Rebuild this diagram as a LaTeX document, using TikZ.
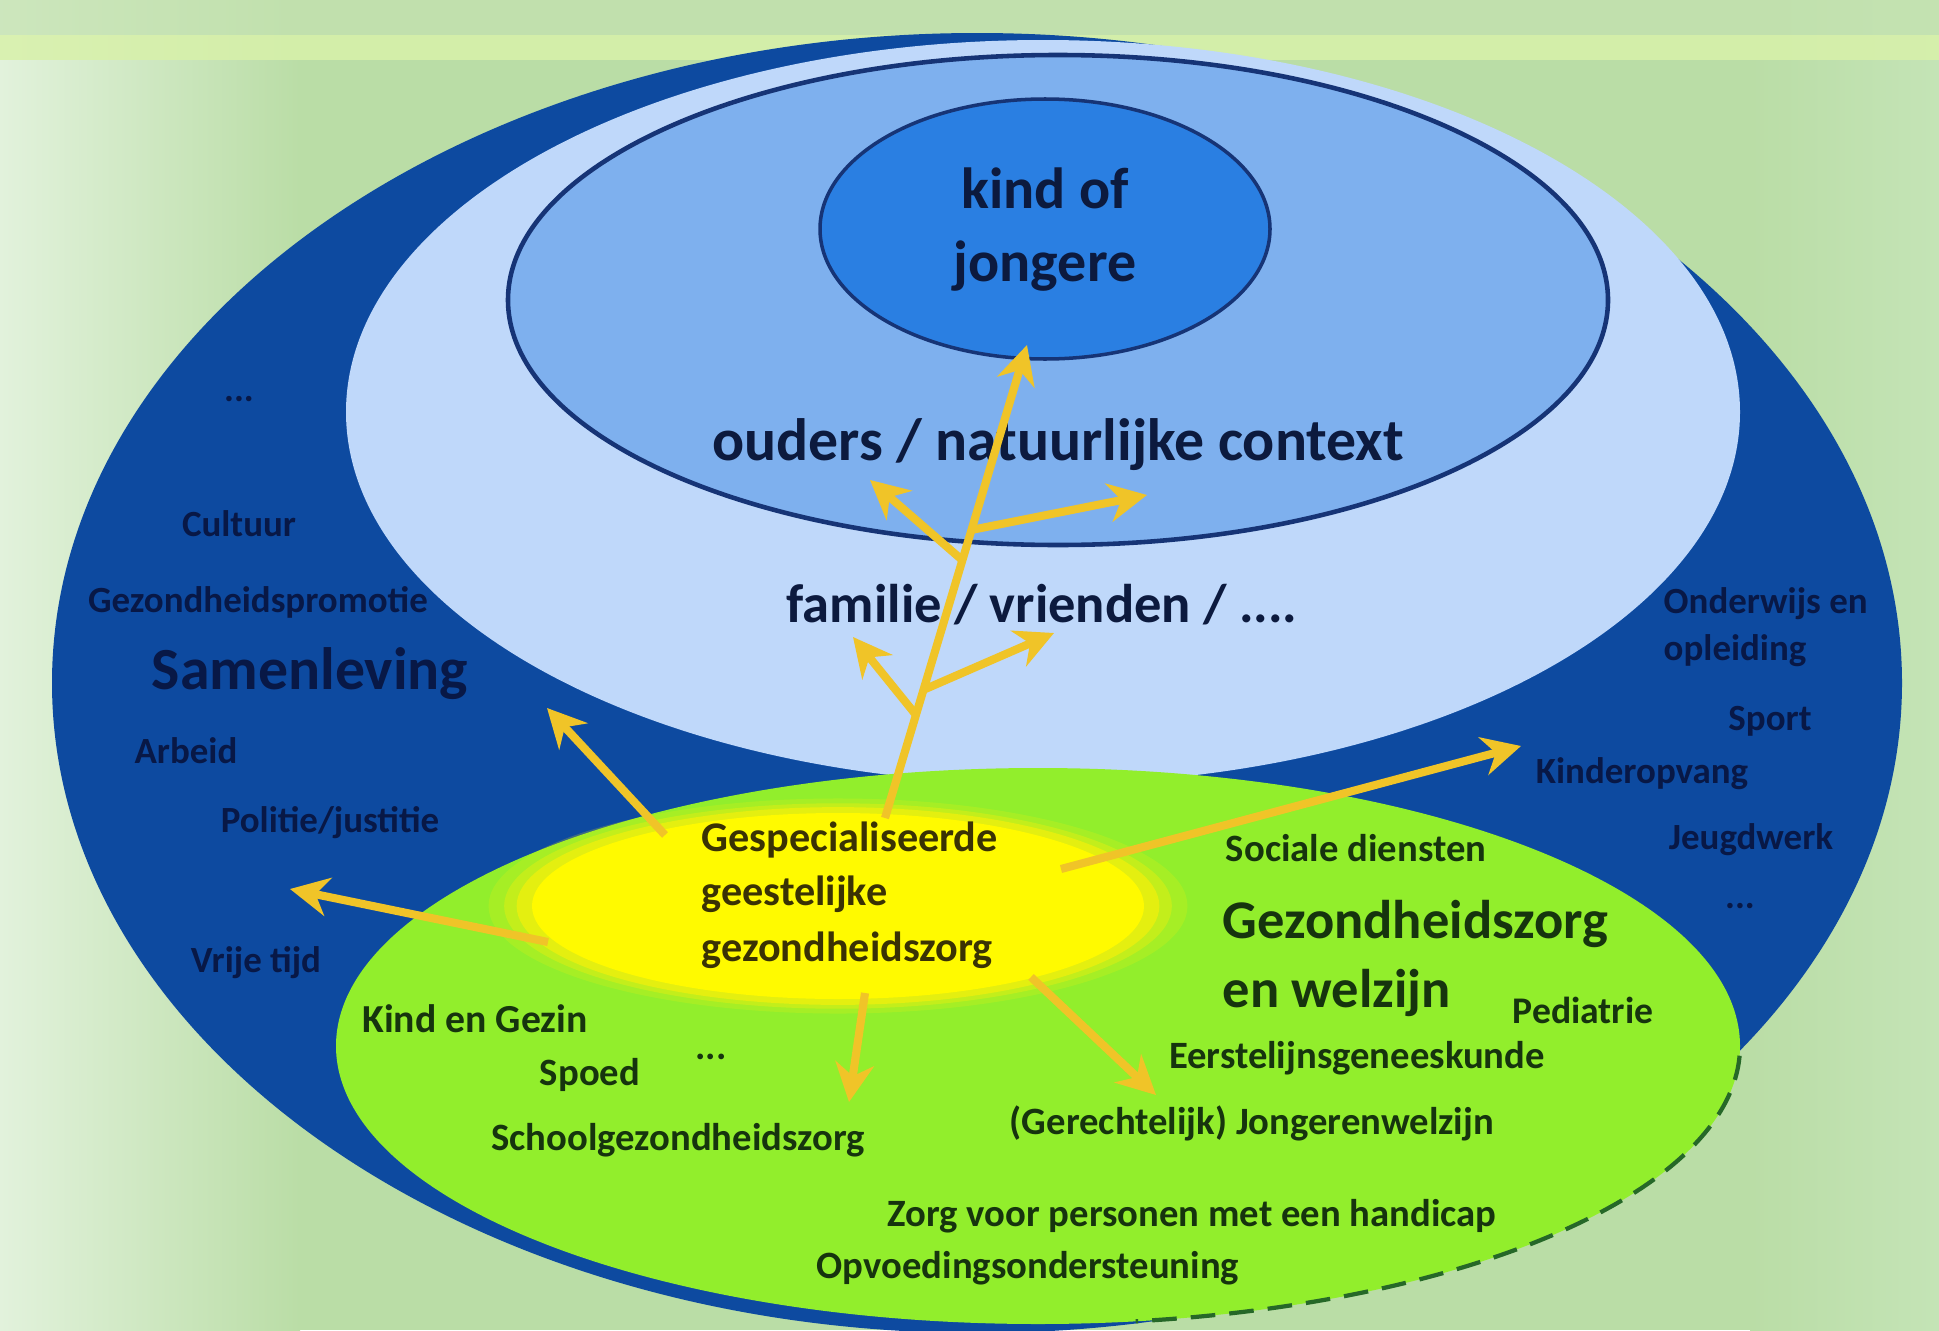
\documentclass[tikz,border=0pt]{standalone}
\usepackage{fontspec}
\setmainfont{Carlito}
\usetikzlibrary{arrows.meta}
\definecolor{bgL}{RGB}{226,242,220}
\definecolor{bgM}{RGB}{186,221,166}
\definecolor{bgR}{RGB}{196,228,182}
\definecolor{bandc}{RGB}{216,241,170}
\definecolor{topc}{RGB}{196,226,176}
\definecolor{societyblue}{RGB}{13,74,160}
\definecolor{famblue}{RGB}{191,216,250}
\definecolor{parentblue}{RGB}{126,176,238}
\definecolor{childblue}{RGB}{42,127,226}
\definecolor{rimblue}{RGB}{22,52,118}
\definecolor{caregreen}{RGB}{146,238,44}
\definecolor{dashgreen}{RGB}{38,104,40}
\definecolor{coreyellow}{RGB}{255,250,0}
\definecolor{haloyellow}{RGB}{250,240,10}
\definecolor{arrowgold}{RGB}{240,196,40}
\definecolor{navytext}{RGB}{12,26,62}
\definecolor{bandtext}{RGB}{8,24,70}
\definecolor{greentext}{RGB}{22,52,14}
\definecolor{yellowtext}{RGB}{58,50,4}
\tikzset{
  bigtxt/.style={font=\fontsize{17}{20}\selectfont\bfseries, text=navytext, inner sep=0pt},
  bandtxt/.style={font=\fontsize{10.5}{12}\selectfont\bfseries, text=bandtext, inner sep=0pt},
  caretxt/.style={font=\fontsize{11}{13}\selectfont\bfseries, text=greentext, inner sep=0pt},
  caretitle/.style={font=\fontsize{15.5}{18}\selectfont\bfseries, text=greentext, inner sep=0pt, anchor=west},
  coretxt/.style={font=\fontsize{12}{14}\selectfont\bfseries, text=yellowtext, inner sep=0pt, anchor=base west},
  flow/.style={draw=arrowgold, line width=2.3pt, -{Stealth[length=11pt,width=11pt]}},
}
\begin{document}
\begin{tikzpicture}[x=0.01cm,y=-0.01cm]
\useasboundingbox (0,0) rectangle (1939,1330);
% background
\fill[bgM] (0,0) rectangle (1939,1330);
\shade[left color=bgL, right color=bgM] (0,0) rectangle (300,1330);
\shade[left color=bgM, right color=bgR] (1750,0) rectangle (1939,1330);
\fill[topc, opacity=0.7] (0,0) rectangle (1939,35);
\fill[bandc, opacity=0.85] (0,35) rectangle (1939,60);
% society
\fill[societyblue] (977,683) ellipse [x radius=925, y radius=650];
% family / friends
\fill[famblue] (1043,412) ellipse [x radius=697, y radius=372];
% parents
\filldraw[fill=parentblue, draw=rimblue, line width=1.3pt] (1058,300) ellipse [x radius=550, y radius=245];
% child
\filldraw[fill=childblue, draw=rimblue, line width=1pt] (1045,229) ellipse [x radius=225, y radius=130];
% health care and welfare
\fill[caregreen] (1038,1046) ellipse [x radius=702, y radius=278];
\draw[dashgreen, dashed, line width=1.2pt, dash pattern=on 7pt off 4pt] (1038,1046) ++(2:702 and 278) arc[start angle=2, end angle=82, x radius=702, y radius=278];
% specialised mental health care (soft yellow)
\foreach \s/\o in {1.12/0.2, 1.07/0.35, 1.03/0.6} {
  \fill[haloyellow, opacity=\o] (838,906) ellipse [x radius={312*\s}, y radius={96*\s}];
}
\fill[coreyellow] (838,906) ellipse [x radius=306, y radius=93];

% texts: centre
\node[bigtxt, font=\fontsize{16.5}{20}\selectfont\bfseries] (kind1) at (1045,188) {kind of};
\node[bigtxt, font=\fontsize{16.5}{20}\selectfont\bfseries] (kind2) at (1045,266) {jongere};
\node[bigtxt] (ouders) at (1058,445) {ouders / natuurlijke context};
\node[bigtxt, font=\fontsize{15.5}{18}\selectfont\bfseries] (familie) at (1042,605) {familie / vrienden / ....};
% society band, left
\node[bandtxt] (sdots) at (239,399) {...};
\node[bandtxt] (cultuur) at (239,524) {Cultuur};
\node[bandtxt] (promotie) at (258,602) {Gezondheidspromotie};
\node[bigtxt, text=bandtext] (samenleving) at (310,674) {Samenleving};
\node[bandtxt] (arbeid) at (186,751) {Arbeid};
\node[bandtxt] (politie) at (330,823) {Politie/justitie};
\node[bandtxt] (vrijetijd) at (256,963) {Vrije tijd};
% society band, right
\node[bandtxt, anchor=west] (onderwijs) at (1663,604) {Onderwijs en};
\node[bandtxt, anchor=west] (opleiding) at (1663,651) {opleiding};
\node[bandtxt] (sport) at (1770,721) {Sport};
\node[bandtxt] (kinderopvang) at (1642,774) {Kinderopvang};
\node[bandtxt] (jeugdwerk) at (1751,840) {Jeugdwerk};
\node[bandtxt] (rdots) at (1740,906) {...};
% care and welfare
\node[caretxt] (sociale) at (1356,848) {Sociale diensten};
\node[caretitle] (gz1) at (1222,924) {Gezondheidszorg};
\node[caretitle] (gz2) at (1222,993) {en welzijn};
\node[caretxt, font=\fontsize{10.7}{13}\selectfont\bfseries] (pediatrie) at (1583,1010) {Pediatrie};
\node[caretxt] (eerste) at (1357,1058) {Eerstelijnsgeneeskunde};
\node[caretxt] (gerecht) at (1252,1123) {(Gerechtelijk) Jongerenwelzijn};
\node[caretxt] (handicap) at (1192,1216) {Zorg voor personen met een handicap};
\node[caretxt] (opvoeding) at (1028,1268) {Opvoedingsondersteuning};
\node[caretxt, font=\fontsize{11.3}{13}\selectfont\bfseries] (kindgezin) at (475,1019) {Kind en Gezin};
\node[caretxt] (spoed) at (590,1075) {Spoed};
\node[caretxt] (gdots) at (711,1057) {...};
\node[caretxt] (school) at (678,1140) {Schoolgezondheidszorg};
% specialised care
\node[coretxt] (ggz1) at (701,851) {Gespecialiseerde};
\node[coretxt] (ggz2) at (701,905) {geestelijke};
\node[coretxt] (ggz3) at (701,961) {gezondheidszorg};

% arrow end points
\coordinate (trunkS) at (885,818);
\coordinate (trunkE) at (1027,345);
\path (trunkS) -- (trunkE) coordinate[pos=0.545] (bUL) coordinate[pos=0.609] (bUR)
      coordinate[pos=0.218] (bLL) coordinate[pos=0.271] (bLR);
\coordinate (tUL) at (870,480);
\coordinate (tUR) at (1147,495);
\coordinate (tLL) at (853,637);
\coordinate (tLR) at (1054,633);
\coordinate (sSam) at (665,835);
\coordinate (tSam) at (547,708);
\coordinate (sVrij) at (548,942);
\coordinate (tVrij) at (290,889);
\coordinate (sKind) at (1061,869);
\coordinate (tKind) at (1521,746);
\coordinate (sSchool) at (865,993);
\coordinate (tSchool) at (849,1102);
\coordinate (sJong) at (1031,977);
\coordinate (tJong) at (1156,1095);
% arrows
\draw[flow] (trunkS) -- (trunkE);
\draw[flow] (bUL) -- (tUL);
\draw[flow] (bUR) -- (tUR);
\draw[flow] (bLL) -- (tLL);
\draw[flow] (bLR) -- (tLR);
\draw[flow] (sSam) -- (tSam);
\draw[flow] (sVrij) -- (tVrij);
\draw[flow] (sKind) -- (tKind);
\draw[flow] (sSchool) -- (tSchool);
\draw[flow] (sJong) -- (tJong);
\end{tikzpicture}
\end{document}
